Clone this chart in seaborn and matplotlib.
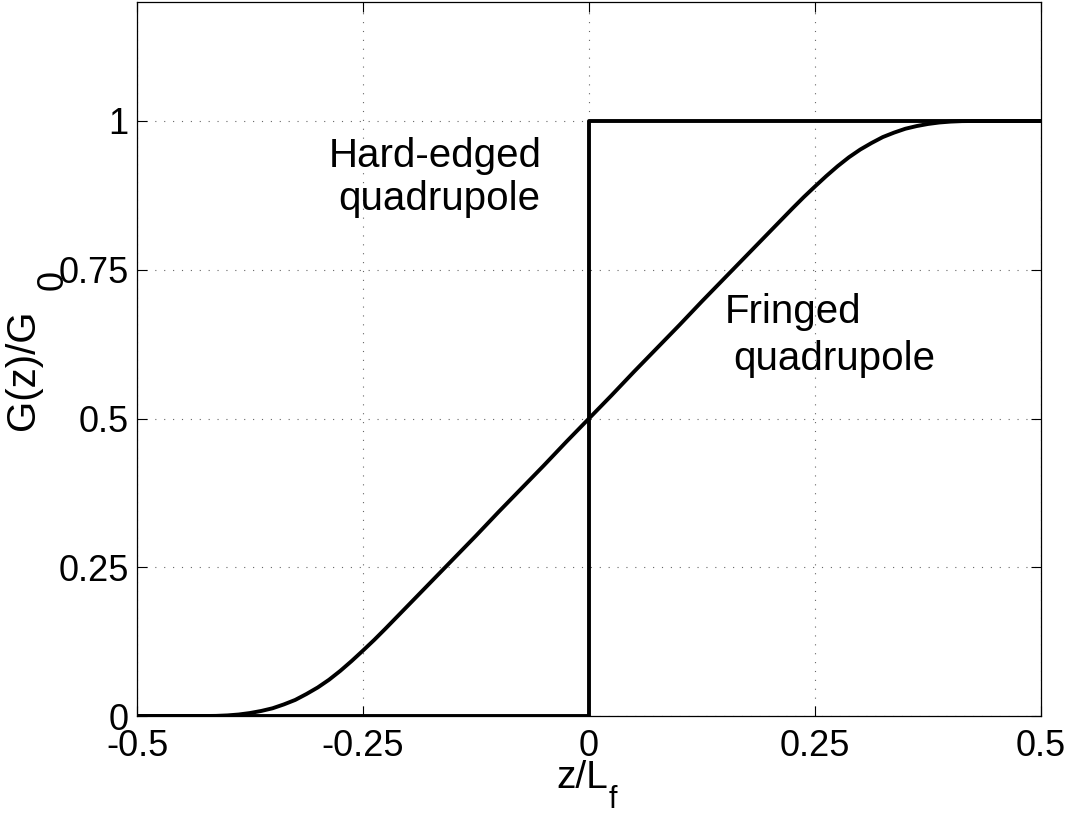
import matplotlib
matplotlib.use("Agg")
import matplotlib.pyplot as plt
import seaborn as sns
import pandas as pd

# Fringed quadrupole gradient profile
fringed_z = [-0.5, -0.475, -0.45, -0.425, -0.4125, -0.4, -0.3875, -0.375, -0.3625, -0.35,
             -0.3375, -0.325, -0.3125, -0.3, -0.2875, -0.275, -0.2625, -0.25, -0.2375, -0.225,
             -0.2125, -0.2, -0.175, -0.15, -0.125, -0.1, -0.075, -0.05, -0.025,
             0.0, 0.025, 0.05, 0.075, 0.1, 0.125, 0.15, 0.175,
             0.2, 0.2125, 0.225, 0.2375, 0.25, 0.2625, 0.275, 0.2875, 0.3, 0.3125,
             0.325, 0.3375, 0.35, 0.3625, 0.375, 0.3875, 0.4, 0.4125, 0.425, 0.45, 0.475, 0.5]
fringed_g = [0.0, 0.0, 0.0, 0.0, 0.0002, 0.001, 0.0025, 0.005, 0.0085, 0.013,
             0.0195, 0.027, 0.037, 0.048, 0.061, 0.076, 0.0925, 0.110, 0.128, 0.147,
             0.1665, 0.186, 0.225, 0.264, 0.303, 0.343, 0.382, 0.421, 0.461,
             0.5, 0.539, 0.579, 0.618, 0.657, 0.697, 0.736, 0.775,
             0.814, 0.8335, 0.853, 0.872, 0.890, 0.9075, 0.924, 0.939, 0.952, 0.963,
             0.973, 0.9805, 0.987, 0.9915, 0.995, 0.9975, 0.999, 0.9998, 1.0, 1.0, 1.0, 1.0]

# Hard-edged quadrupole step
hard_z = [-0.5, 0.0, 0.0, 0.5]
hard_g = [0.0, 0.0, 1.0, 1.0]

x_ticks = [-0.5, -0.25, 0, 0.25, 0.5]
x_tick_labels = ["-0.5", "-0.25", "0", "0.25", "0.5"]
y_ticks = [0, 0.25, 0.5, 0.75, 1]
y_tick_labels = ["0", "0.25", "0.5", "0.75", "1"]

sns.set_theme(style="white")
plt.rcParams["font.family"] = ["Liberation Sans", "DejaVu Sans"]
plt.rcParams["text.color"] = "black"
plt.rcParams["axes.labelcolor"] = "black"

W, H = 1076, 816
fig = plt.figure(figsize=(W / 100, H / 100), dpi=100)
ax = fig.add_axes([137 / W, 100 / H, 904 / W, 714 / H])

df_f = pd.DataFrame({"z": fringed_z, "g": fringed_g})
df_h = pd.DataFrame({"z": hard_z, "g": hard_g})
sns.lineplot(data=df_h, x="z", y="g", ax=ax, color="black", linewidth=2.8,
             estimator=None, sort=False)
sns.lineplot(data=df_f, x="z", y="g", ax=ax, color="black", linewidth=2.8,
             estimator=None, sort=False)

ax.set_xlim(-0.5, 0.5)
ax.set_ylim(0, 1.2)
ax.set_xticks(x_ticks)
ax.set_xticklabels(x_tick_labels)
ax.set_yticks(y_ticks)
ax.set_yticklabels(y_tick_labels)
ax.tick_params(axis="both", direction="in", length=7, width=0.8, labelsize=26,
               colors="black", top=True, right=True, bottom=True, left=True)
ax.tick_params(axis="x", pad=9)
ax.tick_params(axis="y", pad=6)

ax.grid(True, linestyle=(0, (1, 7)), color="#666666", linewidth=0.8)
for s in ax.spines.values():
    s.set_color("black")
    s.set_linewidth(0.9)
    s.set_visible(True)
ax.set_xlabel("")
ax.set_ylabel("")

# Axis labels (large subscripts as in the reference)
fig.text(556 / W, (H - 788) / H, "z/L", fontsize=28, ha="left", va="baseline")
fig.text(609 / W, (H - 808) / H, "f", fontsize=22, ha="left", va="baseline")
fig.text(34 / W, (H - 430) / H, "G(z)/G", fontsize=29, rotation=90,
         rotation_mode="anchor", ha="left", va="baseline")
fig.text(63 / W, (H - 290) / H, "0", fontsize=26, rotation=90,
         rotation_mode="anchor", ha="left", va="baseline")

ax.text(-0.288, 0.923, "Hard-edged", fontsize=29, ha="left", va="baseline")
ax.text(-0.277, 0.850, "quadrupole", fontsize=29, ha="left", va="baseline")
ax.text(0.150, 0.660, "Fringed", fontsize=29, ha="left", va="baseline")
ax.text(0.160, 0.581, "quadrupole", fontsize=29, ha="left", va="baseline")

fig.savefig("out.png", dpi=100)
